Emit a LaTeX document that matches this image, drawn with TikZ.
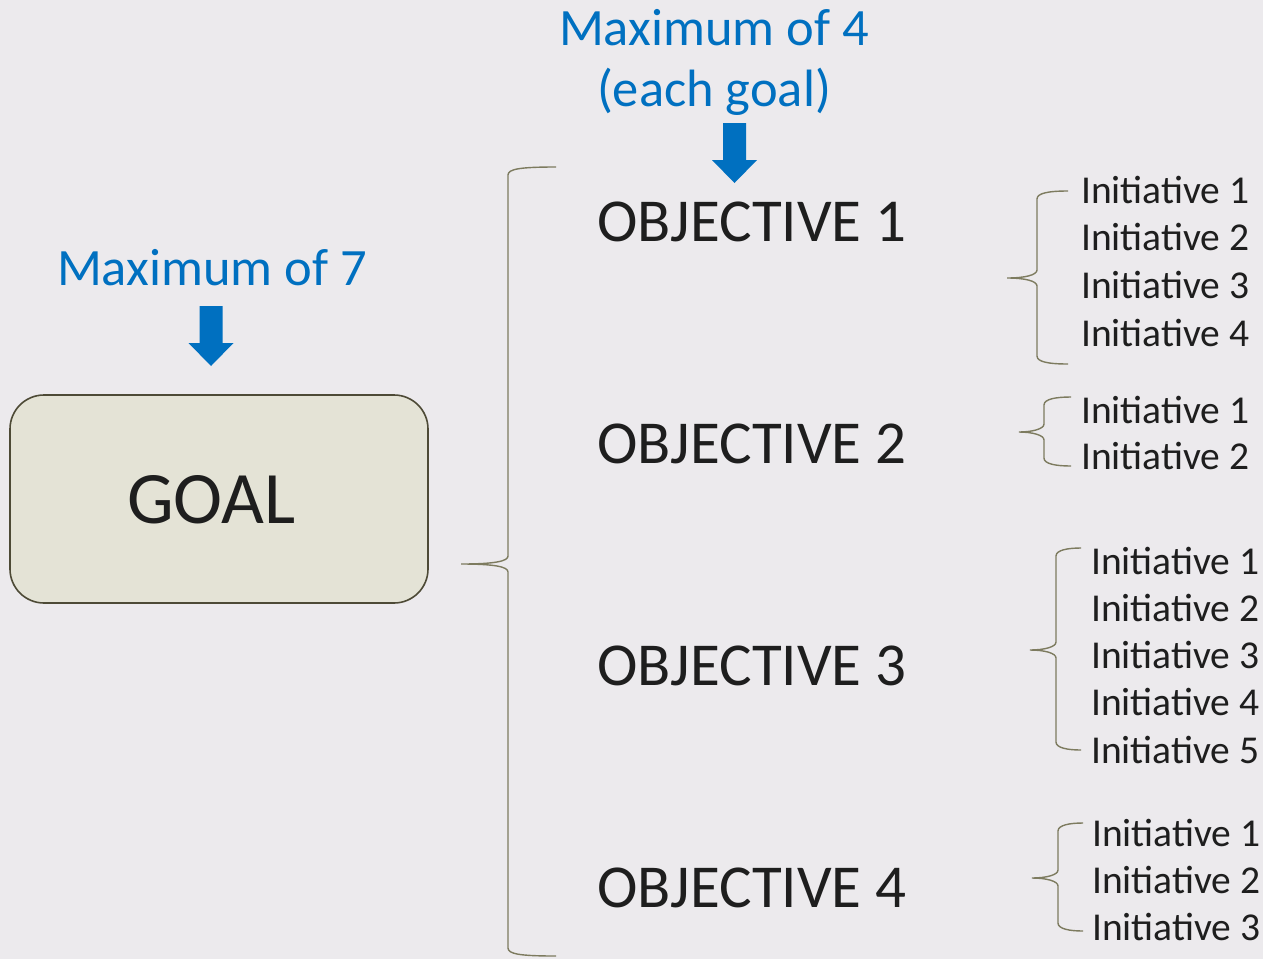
\documentclass[tikz,border=0pt]{standalone}
\usepackage{fontspec}
\setmainfont{Carlito}

\definecolor{pageback}{HTML}{ECEAED}
\definecolor{maxblue}{HTML}{0070C0}
\definecolor{inkgrey}{HTML}{1E1E1E}
\definecolor{goalfill}{HTML}{E4E3D6}
\definecolor{goaldraw}{HTML}{4D4A36}
\definecolor{bracecol}{HTML}{7D7B5F}

% curly brace: end x, stem x, top y, tip x, tip y, bottom y
\newcommand{\curlybrace}[6]{%
  \draw[bracestroke] (#1,#3) .. controls (#2+12,#3) and (#2,#3+2) .. (#2,#3+8)
    -- (#2,#5-8) .. controls (#2,#5-3) and (#2-12,#5) .. (#4,#5)
    .. controls (#2-12,#5) and (#2,#5+3) .. (#2,#5+8)
    -- (#2,#6-8) .. controls (#2,#6-2) and (#2+12,#6) .. (#1,#6);}
% blue block arrow hanging from a coordinate
\newcommand{\blockarrow}[1]{%
  \fill[maxblue] ([shift={(-11.5,0)}]#1) -- ([shift={(11.5,0)}]#1)
    -- ([shift={(11.5,37)}]#1) -- ([shift={(22.5,37)}]#1)
    -- ([shift={(0,60)}]#1) -- ([shift={(-22.5,37)}]#1)
    -- ([shift={(-11.5,37)}]#1) -- cycle;}

\begin{document}
\begin{tikzpicture}[x=1pt,y=-1pt,
    bracestroke/.style={draw=bracecol,line width=1.4pt},
    maxlabel/.style={inner sep=0,anchor=base,text=maxblue,font=\fontsize{52.5}{63}\selectfont},
    objlabel/.style={inner sep=0,anchor=base west,text=inkgrey,font=\fontsize{61}{73}\selectfont},
    initlabel/.style={inner sep=0,anchor=base west,text=inkgrey,font=\fontsize{39.5}{47}\selectfont}]
	\fill[pageback] (0,0) rectangle (1263,959);
	\useasboundingbox (0,0) rectangle (1263,959);

	% the goal
	\node[draw=goaldraw,line width=1.6pt,fill=goalfill,rounded corners=34pt,
	      minimum width=418pt,minimum height=208pt,inner sep=0] (G) at (219,499) {};
	\node[inner sep=0,anchor=base,text=inkgrey,font=\fontsize{74}{89}\selectfont] (Gtext) at (211.5,523) {GOAL};

	% limits
	\node[maxlabel] (max7) at (212,285) {Maximum of 7};
	\node[maxlabel] (max4) at (714,45) {Maximum of 4};
	\node[maxlabel] (each) at (714,106) {(each goal)};
	\coordinate (a7) at (211,306);
	\coordinate (a4) at (734.5,123);
	\blockarrow{a7}
	\blockarrow{a4}

	% objectives
	\foreach \k in {1,...,4}
		\node[objlabel] (O\k) at (597,{241+222*(\k-1)}) {OBJECTIVE \k};

	% initiatives
	\foreach \n in {1,...,4}
		\node[initlabel] (I1-\n) at (1081,{203+47.7*(\n-1)}) {Initiative \n};
	\foreach \n in {1,2}
		\node[initlabel] (I2-\n) at (1081,{423+46*(\n-1)}) {Initiative \n};
	\foreach \n in {1,...,5}
		\node[initlabel] (I3-\n) at (1091,{574+47.3*(\n-1)}) {Initiative \n};
	\foreach \n in {1,...,3}
		\node[initlabel] (I4-\n) at (1092,{846+47*(\n-1)}) {Initiative \n};

	% braces
	\curlybrace{556}{508}{167}{461}{564}{956}
	\curlybrace{1068}{1037}{191}{1007}{278}{364}
	\curlybrace{1071}{1044}{397}{1019}{432}{466}
	\curlybrace{1081}{1056}{548}{1030}{650}{750}
	\curlybrace{1083}{1058}{823}{1032}{878}{931}
\end{tikzpicture}
\end{document}
